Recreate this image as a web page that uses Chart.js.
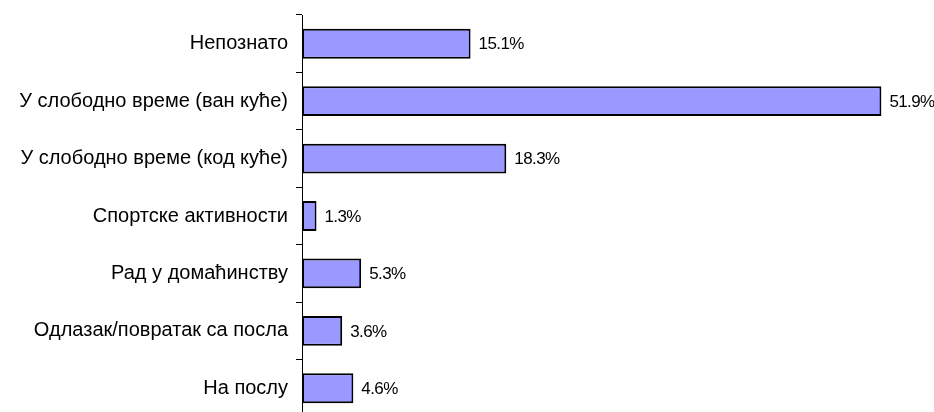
<!DOCTYPE html>
<html>
<head>
<meta charset="utf-8">
<script src="https://cdn.jsdelivr.net/npm/chart.js@4/dist/chart.umd.min.js"></script>
<style>
    html, body {
        margin: 0;
        padding: 0;
        background: #ffffff;
        overflow: hidden;
    }
    #wrap {
        width: 934px;
        height: 412px;
        overflow: hidden;
    }
</style>
</head>
<body>
<div id="wrap">
    <canvas id="uzrociChart" width="934" height="420"></canvas>
</div>
<script>
const categories = [
    'Непознато',
    'У слободно време (ван куће)',
    'У слободно време (код куће)',
    'Спортске активности',
    'Рад у домаћинству',
    'Одлазак/повратак са посла',
    'На послу',
];
const shares = [15.1, 51.9, 18.3, 1.3, 5.3, 3.6, 4.6];

const barFill = '#9999ff';
const inkColor = '#000000';
const labelFont = '"Liberation Sans", Arial, sans-serif';

// percentage written just past the end of each bar
const valueLabels = {
    id: 'valueLabels',
    afterDatasetsDraw(chart) {
        const { ctx } = chart;
        const meta = chart.getDatasetMeta(0);

        ctx.save();
        ctx.font = `17px ${labelFont}`;
        ctx.letterSpacing = '-0.6px';
        ctx.fillStyle = inkColor;
        ctx.textAlign = 'left';
        ctx.textBaseline = 'middle';

        meta.data.forEach((bar, i) => {
            const value = chart.data.datasets[0].data[i];
            ctx.fillText(`${value.toFixed(1)}%`, bar.x + 8, bar.y + 1);
        });

        ctx.restore();
    },
};

new Chart(document.getElementById('uzrociChart'), {
    type: 'bar',
    data: {
        labels: categories,
        datasets: [{
            data: shares,
            backgroundColor: barFill,
            borderColor: inkColor,
            borderWidth: 2,
            borderSkipped: false,
            barPercentage: 0.52,
            categoryPercentage: 1,
        }],
    },
    options: {
        indexAxis: 'y',
        responsive: false,
        animation: false,
        layout: {
            padding: {
                top: 15,
                bottom: 3,
                left: 0,
                right: 18,
            },
        },
        plugins: {
            legend: { display: false },
            tooltip: { enabled: false },
        },
        scales: {
            x: {
                display: false,
                min: 0,
                max: 55,
            },
            y: {
                afterFit(scale) {
                    // fixed axis position, no extra room above/below for labels
                    scale.width = 302;
                    scale.paddingTop = 0;
                    scale.paddingBottom = 0;
                },
                border: {
                    display: true,
                    color: inkColor,
                    width: 1,
                },
                grid: {
                    drawOnChartArea: false,
                    drawTicks: true,
                    tickLength: 6,
                    color: inkColor,
                },
                ticks: {
                    color: inkColor,
                    padding: 8,
                    font: {
                        family: labelFont,
                        size: 20,
                    },
                },
            },
        },
    },
    plugins: [valueLabels],
});
</script>
</body>
</html>
